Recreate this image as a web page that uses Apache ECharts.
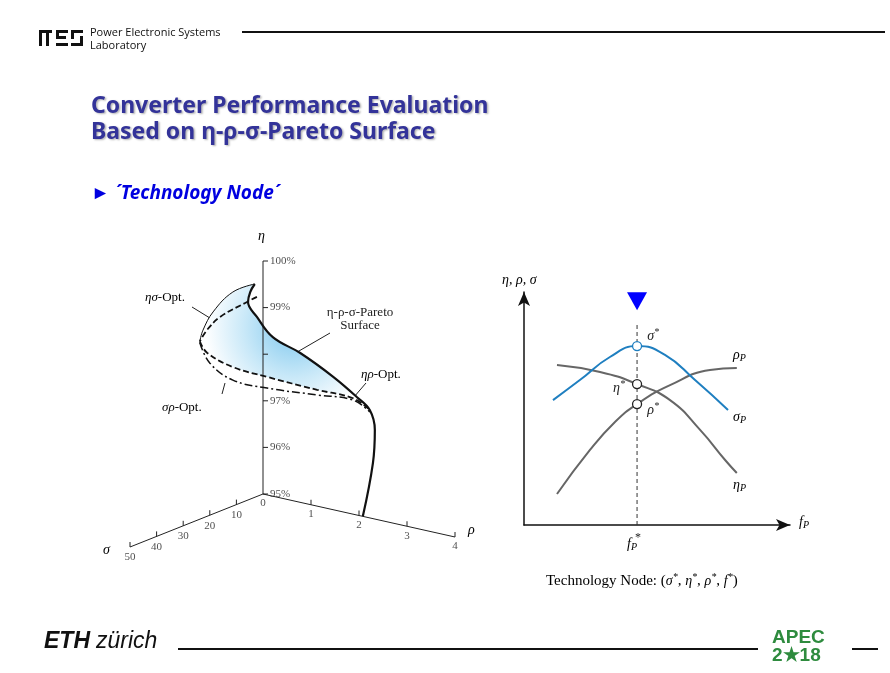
<!DOCTYPE html>
<html>
<head>
<meta charset="utf-8">
<title></title>
<script src="https://cdn.jsdelivr.net/npm/echarts@6/dist/echarts.min.js"></script>
<style>html,body{margin:0;padding:0;background:#fff;}</style>
</head>
<body>
<div id="my" style="width:890px;height:673px;"></div>
<script>
var myChart = echarts.init(document.getElementById('my'));

// ---- left: 3D Pareto curves, rows are [sigma, rho, eta] ----
var etaRhoOpt = [[0,2.08,95.00],[0,2.29,96.19],[0,2.33,96.91],[1,2.28,97.35],[2,2.07,97.60],[5,1.74,98.03],
	[10,1.33,98.56],[14,0.98,98.91],[16,0.76,99.34],[17,0.63,99.65],[16,0.62,99.84],[15,0.66,100.0]];
var topEdge = [[15,0.66,100.0],[20,0.48,99.90],[24,0.29,99.52],[26,0.19,99.15],[27,0.18,98.93]];
var etaSigmaOpt = [[16,0.76,99.77],[19,0.72,99.72],[23,0.38,99.41],[25,0.22,99.14],[27,0.18,98.93]];
var lowerEdge = [[27,0.18,98.93],[25,0.22,98.65],[20,0.48,98.29],[14,0.86,98.03],[8,1.57,97.78],[4,2.10,97.63],[1,2.28,97.35]];
var sigmaRhoOpt = [[27,0.18,98.90],[25,0.28,98.44],[20,0.48,98.01],[14,0.86,97.79],[8,1.57,97.67],[4,2.10,97.59],[1,2.28,97.31]];
var etaTicks = [95,96,97,98,99,100];
var etaTickLabels = ['95%','96%','97%','','99%','100%'];
var rhoTicks = [0,1,2,3,4];
var sigmaTicks = [10,20,30,40,50];

// ---- right: technology node curves, [fP, value] ----
var sigmaP = [[1.09,5.36],[2.1,6.22],[3.23,7.21],[4.25,7.68],[5.3,7.3],[6.43,6.22],[7.67,4.94]];
var etaP = [[1.24,6.87],[2.86,6.57],[4.25,6.05],[5.49,5.36],[6.62,4.08],[7.56,2.79],[8.0,2.23]];
var rhoP = [[1.24,1.33],[2.48,3.22],[3.42,4.42],[4.25,5.19],[5.49,6.0],[6.99,6.65],[8.0,6.74]];
var fStar = 4.25;
var nodePoints = [[4.25,7.68,'σ'],[4.25,6.05,'η'],[4.25,5.19,'ρ']];

function proj(p) {
	var s = p[0], r = p[1], e = p[2];
	return [263 + 48 * r - 2.66 * s, 494 + 10.75 * r + 1.06 * s - 46.6 * (e - 95)];
}
function projAll(a) { return a.map(proj); }

var serif = '"Liberation Serif", "DejaVu Serif", serif';
var gray = '#666';
var blue = '#1f7fc0';

function curve(data, type, width) {
	return {
		type: 'line', xAxisIndex: 0, yAxisIndex: 0, data: projAll(data), smooth: 0.4,
		symbol: 'none', silent: true,
		lineStyle: { color: '#111', width: width, type: type }
	};
}

// segments [[x1,y1,x2,y2]] in axis units
function segments(data, xi, color, width, dash) {
	return {
		type: 'custom', xAxisIndex: xi, yAxisIndex: xi, data: data, silent: true,
		renderItem: function (params, api) {
			var a = api.coord([api.value(0), api.value(1)]);
			var b = api.coord([api.value(2), api.value(3)]);
			return { type: 'line', shape: { x1: a[0], y1: a[1], x2: b[0], y2: b[1] },
				style: { stroke: color, lineWidth: width, lineDash: dash || null } };
		}
	};
}

var surface = projAll(etaRhoOpt.slice(3).concat(topEdge.slice(1), lowerEdge.slice(1)));

var axisSegs = [];
var o = proj([0, 0, 95]);
[proj([0, 0, 100]), proj([0, 4, 95]), proj([50, 0, 95])].forEach(function (p) {
	axisSegs.push([o[0], o[1], p[0], p[1]]);
});
etaTicks.forEach(function (e) { var p = proj([0, 0, e]); axisSegs.push([p[0], p[1], p[0] + 5, p[1]]); });
rhoTicks.slice(1).forEach(function (r) { var p = proj([0, r, 95]); axisSegs.push([p[0], p[1], p[0], p[1] - 5]); });
sigmaTicks.forEach(function (s) { var p = proj([s, 0, 95]); axisSegs.push([p[0], p[1], p[0], p[1] - 5]); });

function tickLabels(points, texts, pos, dist) {
	return {
		type: 'scatter', xAxisIndex: 0, yAxisIndex: 0, symbolSize: 0, silent: true,
		data: points.map(function (p, i) { return { value: p, label: { formatter: texts[i] } }; }),
		label: { show: true, position: pos, distance: dist, color: '#222', fontSize: 11, fontFamily: serif }
	};
}

var rich = {
	i: { fontFamily: serif, fontStyle: 'italic', fontSize: 14, color: '#222' },
	u: { fontFamily: serif, fontSize: 13, color: '#222' },
	t: { fontFamily: serif, fontStyle: 'italic', fontSize: 13, color: '#222' },
	s: { fontFamily: serif, fontStyle: 'italic', fontSize: 10, color: '#222', verticalAlign: 'bottom', padding: [0, 0, 8, 0] },
	b: { fontFamily: serif, fontStyle: 'italic', fontSize: 10, color: '#222', verticalAlign: 'top', padding: [6, 0, 0, 0] },
	n: { fontFamily: serif, fontSize: 15, color: '#222' }
};
function rt(t, x, y) { return { type: 'text', left: x, top: y, style: { text: t, rich: rich } }; }
function leader(x1, y1, x2, y2) { return { type: 'line', shape: { x1: x1, y1: y1, x2: x2, y2: y2 }, style: { stroke: '#222', lineWidth: 1 } }; }

var option = {
	animation: false,
	grid: [
		{ left: 0, top: 0, width: 890, height: 673 },
		{ left: 524, top: 292, width: 266, height: 233 }
	],
	xAxis: [
		{ type: 'value', min: 0, max: 890, show: false, gridIndex: 0 },
		{ type: 'value', min: 0, max: 10, gridIndex: 1, splitLine: { show: false }, axisTick: { show: false }, axisLabel: { show: false },
			axisLine: { lineStyle: { color: '#111', width: 1.5 }, symbol: ['none', 'arrow'], symbolSize: [9, 14] } }
	],
	yAxis: [
		{ type: 'value', min: 0, max: 673, inverse: true, show: false, gridIndex: 0 },
		{ type: 'value', min: 0, max: 10, gridIndex: 1, splitLine: { show: false }, axisTick: { show: false }, axisLabel: { show: false },
			axisLine: { show: true, lineStyle: { color: '#111', width: 1.5 }, symbol: ['none', 'arrow'], symbolSize: [9, 14] } }
	],
	graphic: [
		// PES logo
		{ type: 'rect', shape: { x: 39, y: 30, width: 13, height: 3 }, style: { fill: '#111' } },
		{ type: 'rect', shape: { x: 39, y: 30, width: 3, height: 16 }, style: { fill: '#111' } },
		{ type: 'rect', shape: { x: 46, y: 30, width: 3, height: 16 }, style: { fill: '#111' } },
		{ type: 'rect', shape: { x: 56, y: 30, width: 12, height: 3 }, style: { fill: '#111' } },
		{ type: 'rect', shape: { x: 56, y: 30, width: 3, height: 9 }, style: { fill: '#111' } },
		{ type: 'rect', shape: { x: 59, y: 36, width: 7, height: 3 }, style: { fill: '#111' } },
		{ type: 'rect', shape: { x: 56, y: 43, width: 12, height: 3 }, style: { fill: '#111' } },
		{ type: 'rect', shape: { x: 71, y: 30, width: 12, height: 3 }, style: { fill: '#111' } },
		{ type: 'rect', shape: { x: 71, y: 30, width: 3, height: 9 }, style: { fill: '#111' } },
		{ type: 'rect', shape: { x: 80, y: 36, width: 3, height: 10 }, style: { fill: '#111' } },
		{ type: 'rect', shape: { x: 71, y: 43, width: 12, height: 3 }, style: { fill: '#111' } },
		{ type: 'text', left: 90, top: 26, style: { text: 'Power Electronic Systems\nLaboratory', font: '11px "Open Sans", sans-serif', lineHeight: 13, fill: '#111' } },
		{ type: 'line', shape: { x1: 242, y1: 32, x2: 885, y2: 32 }, style: { stroke: '#111', lineWidth: 2 } },
		// titles
		{ type: 'text', left: 91, top: 93, style: { text: 'Converter Performance Evaluation\nBased on η-ρ-σ-Pareto Surface',
			font: 'bold 23px "Noto Sans", sans-serif', lineHeight: 26, fill: '#333399',
			textShadowColor: 'rgba(0,0,0,0.3)', textShadowBlur: 2, textShadowOffsetX: 1.5, textShadowOffsetY: 1.5 } },
		{ type: 'text', left: 91, top: 184, style: { text: '► ´Technology Node´', font: 'italic bold 19px "Noto Sans", sans-serif', fill: '#0000e0' } },
		// left chart labels
		rt('{i|η}', 258, 229),
		rt('{i|ρ}', 468, 523),
		rt('{i|σ}', 103, 543),
		rt('{t|ησ}{u|-Opt.}', 145, 291),
		leader(192, 307, 218, 323),
		{ type: 'text', x: 360, y: 306, style: { text: 'η-ρ-σ-Pareto\nSurface', font: '13px ' + serif, lineHeight: 13, fill: '#222', align: 'center' } },
		leader(330, 333, 280, 362),
		rt('{t|ηρ}{u|-Opt.}', 361, 368),
		leader(366, 383, 354, 397),
		rt('{t|σρ}{u|-Opt.}', 162, 401),
		leader(225, 383, 222, 394),
		// right chart labels
		rt('{i|η, ρ, σ}', 502, 273),
		rt('{i|f}{b|P}', 799, 515),
		rt('{i|f}{b|P}', 627, 537),
		{ type: 'text', left: 635, top: 532, style: { text: '*', font: '12px ' + serif, fill: '#222' } },
		rt('{i|ρ}{b|P}', 733, 348),
		rt('{i|σ}{b|P}', 733, 410),
		rt('{i|η}{b|P}', 733, 478),
		rt('{n|Technology Node: (}{i|σ}{s|*}{n|, }{i|η}{s|*}{n|, }{i|ρ}{s|*}{n|, }{i|f}{s|*}{n|)}', 546, 572),
		// footer
		{ type: 'text', left: 44, top: 630, style: { text: 'ETH', font: 'italic 900 23px "Liberation Sans", sans-serif', fill: '#111' } },
		{ type: 'text', left: 96, top: 630, style: { text: 'zürich', font: 'italic 23px "Liberation Sans", sans-serif', fill: '#111' } },
		{ type: 'line', shape: { x1: 178, y1: 649, x2: 758, y2: 649 }, style: { stroke: '#111', lineWidth: 2 } },
		{ type: 'text', left: 772, top: 628, style: { text: 'APEC\n2★18', font: 'bold 19px "Liberation Sans", sans-serif', lineHeight: 18, fill: '#2e8b3e' } },
		{ type: 'line', shape: { x1: 852, y1: 649, x2: 878, y2: 649 }, style: { stroke: '#111', lineWidth: 2 } }
	],
	series: [
		{
			type: 'custom', xAxisIndex: 0, yAxisIndex: 0, data: [0], silent: true,
			renderItem: function (params, api) {
				var pts = surface.map(function (p) { return api.coord(p); });
				return { type: 'polygon', shape: { points: pts, smooth: 0.3 },
					style: { fill: new echarts.graphic.RadialGradient(0.55, 0.35, 0.7, [
						{ offset: 0, color: '#7fc8ee' }, { offset: 0.55, color: '#c8e8f8' }, { offset: 1, color: '#ffffff' }]) } };
			}
		},
		segments(axisSegs, 0, '#222', 1),
		tickLabels(etaTicks.map(function (e) { return proj([0, 0, e]); }), etaTickLabels, 'right', 7),
		tickLabels(rhoTicks.map(function (r) { return proj([0, r, 95]); }), rhoTicks.map(String), 'bottom', 4),
		tickLabels(sigmaTicks.map(function (s) { return proj([s, 0, 95]); }), sigmaTicks.map(String), 'bottom', 5),
		curve(etaRhoOpt, 'solid', 2.2),
		curve(topEdge, 'solid', 1),
		curve(etaSigmaOpt, [6, 3], 1.8),
		curve(lowerEdge, [6, 3], 1.8),
		curve(sigmaRhoOpt, [8, 3, 2, 3], 1.5),
		// right chart
		segments([[fStar, 0, fStar, 8.6]], 1, '#333', 1, [4, 3]),
		{ type: 'line', xAxisIndex: 1, yAxisIndex: 1, data: rhoP, smooth: true, symbol: 'none', lineStyle: { color: gray, width: 2 } },
		{ type: 'line', xAxisIndex: 1, yAxisIndex: 1, data: etaP, smooth: true, symbol: 'none', lineStyle: { color: gray, width: 2 } },
		{ type: 'line', xAxisIndex: 1, yAxisIndex: 1, data: sigmaP, smooth: true, symbol: 'none', lineStyle: { color: blue, width: 2 } },
		{
			type: 'scatter', xAxisIndex: 1, yAxisIndex: 1, symbolSize: 9, z: 5,
			data: nodePoints.map(function (p, i) {
				return { value: [p[0], p[1]], itemStyle: { color: '#fff', borderColor: i === 0 ? blue : '#222', borderWidth: 1.3, opacity: 1 },
					label: { show: true, formatter: '{i|' + p[2] + '}{s|*}', rich: rich,
						position: i === 1 ? 'left' : 'right', offset: i === 0 ? [0, -10] : (i === 2 ? [0, 6] : [-2, 4]) } };
			})
		},
		{ type: 'scatter', xAxisIndex: 1, yAxisIndex: 1, symbol: 'triangle', symbolRotate: 180, symbolSize: [20, 18],
			data: [[fStar, 9.6]], itemStyle: { color: '#0000ff', opacity: 1 } }
	]
};

myChart.setOption(option);
</script>
</body>
</html>
